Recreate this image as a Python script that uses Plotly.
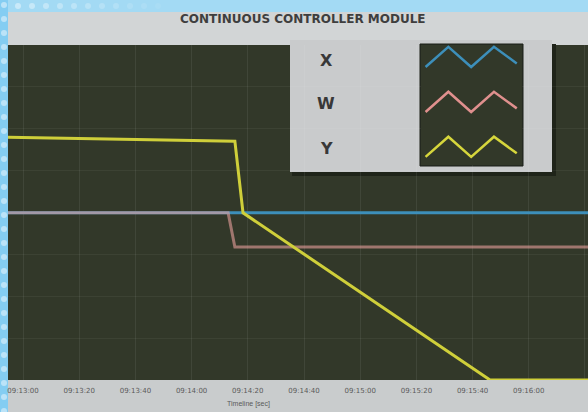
import plotly.graph_objects as go

# ---------------- data ----------------
D = "2024-01-01 "
y_time = [D + "09:12:54.6", D + "09:14:15.4", D + "09:14:18.3", D + "09:15:46.2", D + "09:16:21.1"]
y_vals = [72.5, 71.3, 49.9, 0.0, 0.0]

x_time = [D + "09:12:54.6", D + "09:16:21.1"]
x_vals = [49.9, 49.9]

w_time = [D + "09:12:54.6", D + "09:14:13.0", D + "09:14:15.4", D + "09:16:21.1"]
w_vals = [49.9, 49.9, 39.7, 39.7]

tick_times = [D + "09:13:00", D + "09:13:20", D + "09:13:40", D + "09:14:00", D + "09:14:20",
              D + "09:14:40", D + "09:15:00", D + "09:15:20", D + "09:15:40", D + "09:16:00",
              D + "09:16:20"]
tick_labels = [t.split(" ")[1] for t in tick_times]

legend_names = ["X", "W", "Y"]
legend_colors = ["#3d8fba", "#e0908e", "#d6d63c"]
legend_rows = [2, 1, 0]
zig_x = [0, 1, 2, 3, 4]
zig_y = [0, 0.45, 0, 0.45, 0.08]

title_text = "CONTINUOUS CONTROLLER MODULE"
axis_title = "Timeline [sec]"

# ---------------- figure ----------------
W, H = 588, 412
L, R, T, B = 8, 0, 45, 32
pw, ph = W - L - R, H - T - B


def px(x):
    return (x - L) / pw


def py(y):
    return (H - B - y) / ph


fig = go.Figure()

fig.add_trace(go.Scatter(x=x_time, y=x_vals, mode="lines", name="X",
                         line=dict(color="#3d8fba", width=3), showlegend=False))
fig.add_trace(go.Scatter(x=w_time, y=w_vals, mode="lines", name="W", opacity=0.6,
                         line=dict(color="#e8a09c", width=3), showlegend=False))
fig.add_trace(go.Scatter(x=y_time, y=y_vals, mode="lines", name="Y", cliponaxis=False,
                         line=dict(color="#cfcf3a", width=3), showlegend=False))

# legend zigzag icons
for name, col, row in zip(legend_names, legend_colors, legend_rows):
    fig.add_trace(go.Scatter(x=zig_x, y=[v + row for v in zig_y], mode="lines",
                             line=dict(color=col, width=2.5), xaxis="x2", yaxis="y2",
                             showlegend=False, hoverinfo="skip"))

shapes = []
# header band
shapes.append(dict(type="rect", xref="paper", yref="paper", x0=px(8), x1=px(W), y0=py(45), y1=py(12),
                   fillcolor="#d2d5d6", line=dict(width=0), layer="below"))
# legend box
shapes.append(dict(type="rect", xref="paper", yref="paper", x0=px(292), x1=px(556), y0=py(176), y1=py(44),
                   fillcolor="#1f2419", line=dict(width=0), layer="below"))
shapes.append(dict(type="rect", xref="paper", yref="paper", x0=px(290), x1=px(552), y0=py(172), y1=py(40),
                   fillcolor="#c9cbcc", line=dict(width=0), layer="below"))
shapes.append(dict(type="rect", xref="paper", yref="paper", x0=px(420), x1=px(523), y0=py(166), y1=py(44),
                   fillcolor="#2c3228", line=dict(color="#1c2018", width=1), layer="below"))
# photo border strips
shapes.append(dict(type="rect", xref="paper", yref="paper", x0=px(0), x1=px(W), y0=py(12), y1=py(0),
                   fillcolor="#a3daf4", line=dict(width=0), layer="below"))
shapes.append(dict(type="rect", xref="paper", yref="paper", x0=px(0), x1=px(8), y0=py(H), y1=py(0),
                   fillcolor="#84cdf2", line=dict(width=0), layer="below"))
for k in range(30):
    cy = 5 + 14 * k
    if cy > H:
        break
    shapes.append(dict(type="circle", xref="paper", yref="paper", x0=px(1), x1=px(7), y0=py(cy + 3), y1=py(cy - 3),
                       fillcolor="rgba(255,255,255,0.45)", line=dict(width=0), layer="below"))
for k in range(1, 12):
    cx = 4 + 14 * k
    shapes.append(dict(type="circle", xref="paper", yref="paper", x0=px(cx - 3), x1=px(cx + 3), y0=py(9), y1=py(3),
                       fillcolor="rgba(255,255,255,%.2f)" % max(0.05, 0.45 - 0.035 * k), line=dict(width=0), layer="below"))

annotations = [
    dict(text="<b>" + title_text + "</b>", xref="paper", yref="paper", x=px(303), y=py(19),
         xanchor="center", yanchor="middle", showarrow=False,
         font=dict(family="DejaVu Sans", size=12, color="#3e3e3e")),
    dict(text=axis_title, xref="paper", yref="paper", x=px(248), y=py(404),
         xanchor="center", yanchor="middle", showarrow=False,
         font=dict(family="Liberation Sans", size=7, color="#5a5a5a")),
]
for name, yy in zip(legend_names, [60, 103, 148]):
    annotations.append(dict(text="<b>" + name + "</b>", xref="paper", yref="paper", x=px(326), y=py(yy),
                            xanchor="center", yanchor="middle", showarrow=False,
                            font=dict(family="DejaVu Sans", size=16, color="#383838")))

fig.update_layout(
    width=W, height=H, autosize=False,
    margin=dict(l=L, r=R, t=T, b=B, pad=0),
    paper_bgcolor="#c9cccd",
    plot_bgcolor="#323829",
    shapes=shapes,
    annotations=annotations,
    xaxis=dict(type="date", range=[D + "09:12:54.66", D + "09:16:21.07"],
               tickvals=tick_times, ticktext=tick_labels, ticks="", ticklabelstandoff=5,
               tickfont=dict(family="DejaVu Sans", size=7, color="#5a5a5a"),
               showgrid=True, gridcolor="rgba(255,255,255,0.07)", gridwidth=1,
               zeroline=False, showline=False),
    yaxis=dict(range=[0, 100], showticklabels=False, ticks="", dtick=12.5,
               showgrid=True, gridcolor="rgba(255,255,255,0.05)", zeroline=False, showline=False),
    xaxis2=dict(domain=[px(421), px(522)], range=[-0.2, 4.23], visible=False, fixedrange=True),
    yaxis2=dict(domain=[py(165), py(45)], range=[-0.18, 2.49], visible=False, fixedrange=True, anchor="x2"),
)

fig.write_html("out.html", config={"displayModeBar": False},
               post_script="document.body.style.margin='0';document.body.style.overflow='hidden';")
